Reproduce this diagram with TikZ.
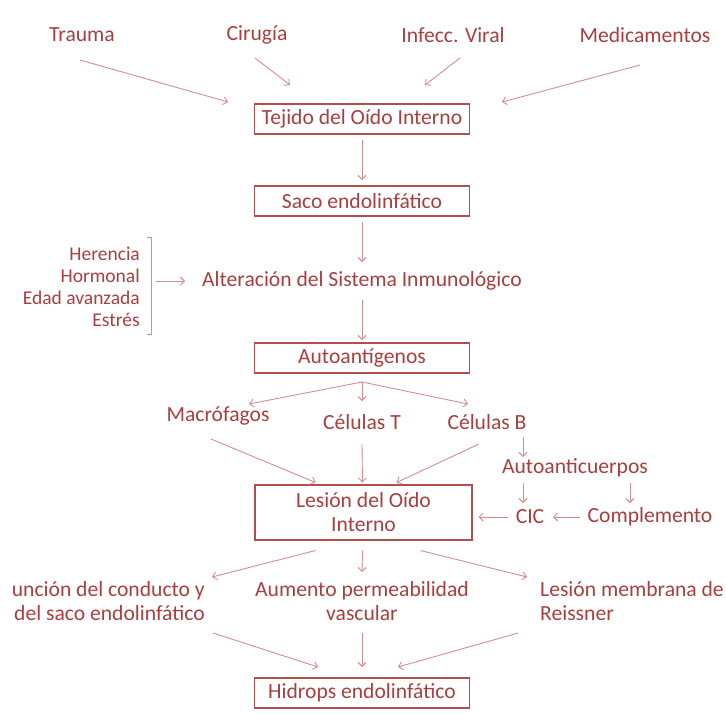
\documentclass[tikz,border=0pt]{standalone}
\usepackage{fontspec}
\setmainfont{Carlito}
\usetikzlibrary{arrows.meta,calc}
\definecolor{txt}{RGB}{168,62,62}
\definecolor{boxc}{RGB}{178,78,78}
\definecolor{arc}{RGB}{214,140,140}
\begin{document}
\begin{tikzpicture}[x=1pt,y=-1pt,
  font=\fontsize{21.6}{24}\selectfont,
  lbl/.style={text=txt,inner sep=0pt},
  bx/.style={draw=boxc,line width=1.1pt,text=txt,minimum width=215pt,minimum height=30pt,inner sep=0pt},
  ar/.style={draw=arc,line width=0.9pt,-{Straight Barb[length=4pt,width=8pt]}}]
\useasboundingbox (0,0) rectangle (726,713);
% top causes
\node[lbl] (trauma) at (82,35) {Trauma};
\node[lbl] (ciru) at (257,35) {Cirugía};
\node[lbl] (infe) at (453,35) {Infecc. Viral};
\node[lbl] (medi) at (645,35) {Medicamentos};
% main chain
\node[bx] (tej) at (362,119) {Tejido del Oído Interno};
\node[bx] (saco) at (362,201) {Saco endolinfático};
\node[lbl] (alt) at (362,281) {Alteración del Sistema Inmunológico};
\node[bx] (auto) at (362,358) {Autoantígenos};
\node[lbl,align=right,anchor=east,font=\fontsize{19.5}{22}\selectfont] (fact) at (140,286.5) {Herencia\\Hormonal\\Edad avanzada\\Estrés};
\coordinate (brk) at (151,281);
\draw[draw=arc,line width=0.9pt] (147,237) -- (151,237) -- (151,334) -- (147,334);
% cells
\node[lbl] (macro) at (218,416) {Macrófagos};
\node[lbl] (celT) at (362,422) {Células T};
\node[lbl] (celB) at (487,422) {Células B};
\node[lbl] (aac) at (575,468) {Autoanticuerpos};
\node[lbl] (cic) at (530,517) {CIC};
\node[lbl] (comp) at (650,517) {Complemento};
\node[bx,minimum width=217pt,minimum height=55pt,align=center] (les) at (363.5,512.5) {Lesión del Oído\\Interno};
% consequences
\node[lbl,align=right,anchor=east] (disf) at (205,601) {unción del conducto y\\del saco endolinfático};
\node[lbl,align=center] (perm) at (362,601) {Aumento permeabilidad\\vascular};
\node[lbl,align=left,anchor=west] (reis) at (540,601) {Lesión membrana de\\Reissner};
\node[bx] (hid) at (362,693) {Hidrops endolinfático};
% arrows
\draw[ar] ($(trauma)+(-2,25)$) -- ($(tej)+(-134,-17)$);
\draw[ar] ($(ciru)+(-2,23)$) -- ($(tej)+(-72,-34)$);
\draw[ar] ($(infe)+(7,23)$) -- ($(tej)+(63,-34)$);
\draw[ar] ($(medi)+(-5,30)$) -- ($(tej)+(140,-17)$);
\draw[ar] ($(tej)+(0,21)$) -- ($(saco)+(0,-21)$);
\draw[ar] ($(saco)+(0,21)$) -- ($(alt)+(0,-19)$);
\draw[ar] ($(brk)+(5,0)$) -- ($(alt.west)+(-17,0)$);
\draw[ar] ($(alt)+(0,19)$) -- ($(auto)+(0,-18)$);
\draw[ar] ($(auto)+(0,24)$) -- ($(macro)+(31,-12)$);
\draw[ar] ($(auto)+(0,24)$) -- ($(celT)+(0,-21)$);
\draw[ar] ($(auto)+(0,24)$) -- ($(celB)+(-19,-18)$);
\draw[ar] ($(macro)+(-7,23)$) -- ($(les)+(-48,-30)$);
\draw[ar] ($(celT)+(0,22)$) -- ($(les)+(-1,-30)$);
\draw[ar] ($(celB)+(-8,22)$) -- ($(les)+(33,-30)$);
\draw[ar] ($(celB)+(36,15)$) -- ($(aac)+(-52,-11)$);
\draw[ar] ($(aac)+(-52,15)$) -- ($(cic)+(-7,-14)$);
\draw[ar] ($(aac)+(55,15)$) -- ($(comp)+(-20,-14)$);
\draw[ar] ($(comp)+(-70,0)$) -- ($(cic)+(23,0)$);
\draw[ar] ($(cic)+(-22,0)$) -- ($(les)+(115,4.5)$);
\draw[ar] ($(les)+(-48,38)$) -- ($(disf.east)+(7,-24)$);
\draw[ar] ($(les)+(-1,38)$) -- ($(perm)+(0,-29)$);
\draw[ar] ($(les)+(57,38)$) -- ($(reis.west)+(-13,-24)$);
\draw[ar] ($(disf.east)+(8,32)$) -- ($(hid)+(-44,-26)$);
\draw[ar] ($(perm)+(0,32)$) -- ($(hid)+(0,-26)$);
\draw[ar] ($(reis.west)+(-22,32)$) -- ($(hid)+(36,-26)$);
\end{tikzpicture}
\end{document}
